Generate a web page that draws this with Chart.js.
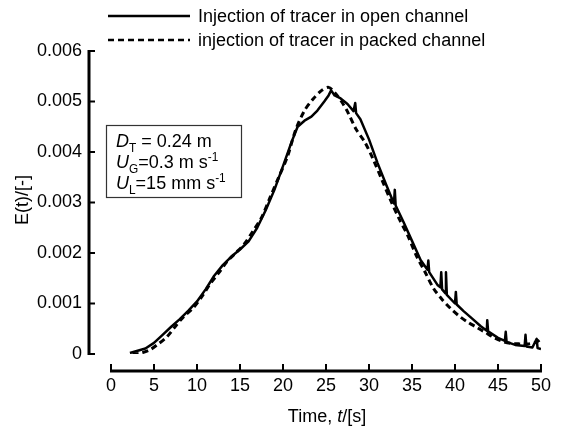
<!DOCTYPE html>
<html>
<head>
<meta charset="utf-8">
<script src="https://cdn.jsdelivr.net/npm/chart.js@4.4.0/dist/chart.umd.min.js"></script>
<style>
  html, body { margin: 0; padding: 0; background: #fff; }
  #wrap { width: 572px; height: 429px; position: relative; }
</style>
</head>
<body>
<div id="wrap"><canvas id="rtdChart"></canvas></div>
<script>
// Residence time distribution, tracer injected in open vs packed channel
const timeOpen = [2.2, 3, 4, 5, 6, 7, 8, 9, 10, 11, 12, 13, 14, 15, 16, 17, 18, 19, 20, 21,
  21.7, 22.5, 23.3, 24, 24.8, 25.3, 25.6, 26, 26.7, 27.5, 28.2, 28.4, 28.5, 29, 30, 31, 32,
  32.9, 33, 33.1, 34, 35, 36, 36.8, 36.9, 37, 38, 38.3, 38.4, 38.5, 38.9, 38.95, 39.05, 40,
  40.1, 40.2, 41, 42, 43, 43.7, 43.75, 43.85, 45, 45.8, 45.9, 46, 47, 48.1, 48.2, 48.3, 49,
  49.5, 49.6, 50];
const eOpen = [0.00002, 0.00006, 0.00011, 0.00022, 0.00038, 0.00054, 0.00069, 0.00086, 0.00104,
  0.00128, 0.00155, 0.00176, 0.00193, 0.00207, 0.00223, 0.00250, 0.00285, 0.00325, 0.00372,
  0.00420, 0.00450, 0.00462, 0.00470, 0.00482, 0.00500, 0.00512, 0.00522, 0.00512, 0.00506,
  0.00495, 0.00481, 0.00497, 0.00477, 0.00465, 0.00425, 0.00378, 0.00335, 0.00298, 0.00325,
  0.00294, 0.00262, 0.00224, 0.00186, 0.00167, 0.00185, 0.00162, 0.00136, 0.00132, 0.00162,
  0.00128, 0.00120, 0.00162, 0.00117, 0.00100, 0.00123, 0.00098, 0.00085, 0.00070, 0.00055,
  0.00046, 0.00067, 0.00045, 0.00032, 0.00026, 0.00044, 0.00024, 0.00018, 0.00016, 0.00038,
  0.00015, 0.00013, 0.00030, 0.00012, 0.00010];

const timePacked = [2.5, 3.5, 4.5, 5.5, 6.5, 7.5, 8.5, 9.5, 10.5, 11.5, 12.5, 13.5, 14.5, 15.5,
  16.5, 17.5, 18.5, 19.5, 20.5, 21.5, 22.5, 23.5, 24.5, 25.3, 26, 26.8, 27.5, 28.5, 29.5, 30.5,
  31.5, 32.5, 33.5, 34.5, 35.5, 36.5, 37.5, 38.5, 39.5, 40.5, 41.5, 42.5, 43.5, 44.5, 45.5,
  46.5, 47.5, 48.5, 49.5, 50];
const ePacked = [0.0, 0.00002, 0.00008, 0.00020, 0.00034, 0.00055, 0.00075, 0.00090, 0.00112,
  0.00138, 0.00160, 0.00183, 0.00200, 0.00218, 0.00243, 0.00270, 0.00310, 0.00350, 0.00390,
  0.00445, 0.00482, 0.00505, 0.00522, 0.00528, 0.00518, 0.00500, 0.00480, 0.00445, 0.00420,
  0.00385, 0.00345, 0.00305, 0.00268, 0.00235, 0.00195, 0.00163, 0.00130, 0.00108, 0.00090,
  0.00075, 0.00063, 0.00053, 0.00043, 0.00033, 0.00025, 0.00021, 0.00020, 0.00020, 0.00024,
  0.00030];

const seriesNames = ['Injection of tracer in open channel', 'injection of tracer in packed channel'];
const xTicks = [0, 5, 10, 15, 20, 25, 30, 35, 40, 45, 50];
const yTicks = [0, 0.001, 0.002, 0.003, 0.004, 0.005, 0.006];

const FONT = '"Liberation Sans", Arial, Helvetica, sans-serif';
const FS = 18;

function toPoints(xs, ys) {
  return xs.map((x, i) => ({ x: x, y: ys[i] }));
}

// draws text runs with italic/sub/superscript pieces
function drawRuns(ctx, runs, x, y, size) {
  runs.forEach(r => {
    const s = r.sub || r.sup ? size * 0.66 : size;
    ctx.font = (r.italic ? 'italic ' : '') + s + 'px ' + FONT;
    const dy = r.sub ? size * 0.26 : (r.sup ? -size * 0.38 : 0);
    ctx.fillText(r.t, x, y + dy);
    x += ctx.measureText(r.t).width;
  });
  return x;
}

const axesPlugin = {
  id: 'axesPlugin',
  afterDraw(chart) {
    const ctx = chart.ctx;
    const xs = chart.scales.x, ys = chart.scales.y;
    const area = chart.chartArea;
    const yAxisX = area.left - 22;
    const xAxisY = area.bottom + 17;

    ctx.save();
    ctx.strokeStyle = '#000';
    ctx.fillStyle = '#000';
    ctx.lineCap = 'butt';

    // y axis, detached to the left
    ctx.lineWidth = 3;
    ctx.beginPath();
    ctx.moveTo(yAxisX, ys.getPixelForValue(0.006) - 1);
    ctx.lineTo(yAxisX, ys.getPixelForValue(0) + 1);
    ctx.stroke();
    ctx.lineWidth = 2;
    yTicks.forEach(v => {
      const py = ys.getPixelForValue(v);
      ctx.beginPath();
      ctx.moveTo(yAxisX, py);
      ctx.lineTo(yAxisX + 6, py);
      ctx.stroke();
    });

    // x axis, detached below
    ctx.lineWidth = 3;
    ctx.beginPath();
    ctx.moveTo(xs.getPixelForValue(0) - 1, xAxisY);
    ctx.lineTo(xs.getPixelForValue(50) + 1, xAxisY);
    ctx.stroke();
    ctx.lineWidth = 2;
    xTicks.forEach(v => {
      const px = xs.getPixelForValue(v);
      ctx.beginPath();
      ctx.moveTo(px, xAxisY);
      ctx.lineTo(px, xAxisY - 7);
      ctx.stroke();
    });

    // axis titles
    ctx.textBaseline = 'alphabetic';
    ctx.font = FS + 'px ' + FONT;
    ctx.save();
    ctx.translate(28, 200);
    ctx.rotate(-Math.PI / 2);
    ctx.textAlign = 'center';
    ctx.fillText('E(t)/[-]', 0, 0);
    ctx.restore();

    ctx.textAlign = 'left';
    const xRuns = [{ t: 'Time, ' }, { t: 't', italic: true }, { t: '/[s]' }];
    let w = 0;
    xRuns.forEach(r => { ctx.font = (r.italic ? 'italic ' : '') + FS + 'px ' + FONT; w += ctx.measureText(r.t).width; });
    drawRuns(ctx, xRuns, 327 - w / 2, 422, FS);

    // legend
    const legendY = [16, 40];
    chart.data.datasets.forEach((ds, i) => {
      ctx.lineWidth = 2.5;
      ctx.setLineDash(ds.borderDash || []);
      ctx.beginPath();
      ctx.moveTo(108, legendY[i]);
      ctx.lineTo(190, legendY[i]);
      ctx.stroke();
      ctx.setLineDash([]);
      ctx.font = FS + 'px ' + FONT;
      ctx.fillText(ds.label, 198, legendY[i] + 6);
    });

    // conditions box
    ctx.lineWidth = 1.2;
    ctx.strokeStyle = '#333';
    ctx.strokeRect(106.5, 125.5, 135, 72);
    drawRuns(ctx, [{ t: 'D', italic: true }, { t: 'T', sub: true }, { t: ' = 0.24 m' }], 116, 147, FS);
    drawRuns(ctx, [{ t: 'U', italic: true }, { t: 'G', sub: true }, { t: '=0.3 m s' }, { t: '-1', sup: true }], 116, 168, FS);
    drawRuns(ctx, [{ t: 'U', italic: true }, { t: 'L', sub: true }, { t: '=15 mm s' }, { t: '-1', sup: true }], 116, 189, FS);

    ctx.restore();
  }
};

const ctx = document.getElementById('rtdChart').getContext('2d');
const rtdChart = new Chart(ctx, {
  type: 'line',
  data: {
    datasets: [{
      label: seriesNames[0],
      data: toPoints(timeOpen, eOpen),
      borderColor: '#000',
      borderWidth: 2.5,
      borderJoinStyle: 'round',
      pointRadius: 0,
      tension: 0,
      fill: false
    }, {
      label: seriesNames[1],
      data: toPoints(timePacked, ePacked),
      borderColor: '#000',
      borderWidth: 3,
      borderDash: [6, 4],
      pointRadius: 0,
      tension: 0.3,
      fill: false
    }]
  },
  options: {
    responsive: true,
    maintainAspectRatio: false,
    animation: false,
    layout: { padding: { left: 0, top: 51, right: 13, bottom: 0 } },
    plugins: {
      legend: { display: false },
      tooltip: { enabled: false }
    },
    scales: {
      x: {
        type: 'linear',
        min: 0,
        max: 50,
        afterFit(scale) { scale.height = 75; },
        afterBuildTicks(scale) { scale.ticks = xTicks.map(v => ({ value: v })); },
        grid: { display: false, drawTicks: false },
        border: { display: false },
        ticks: {
          padding: 21,
          maxRotation: 0,
          color: '#000',
          font: { family: FONT, size: FS }
        }
      },
      y: {
        type: 'linear',
        min: 0,
        max: 0.006,
        afterFit(scale) { scale.width = 111; },
        afterBuildTicks(scale) { scale.ticks = yTicks.map(v => ({ value: v })); },
        grid: { display: false, drawTicks: false },
        border: { display: false },
        ticks: {
          padding: 29,
          color: '#000',
          font: { family: FONT, size: FS },
          callback: v => (v === 0 ? '0' : v.toFixed(3))
        }
      }
    }
  },
  plugins: [axesPlugin]
});
</script>
</body>
</html>
